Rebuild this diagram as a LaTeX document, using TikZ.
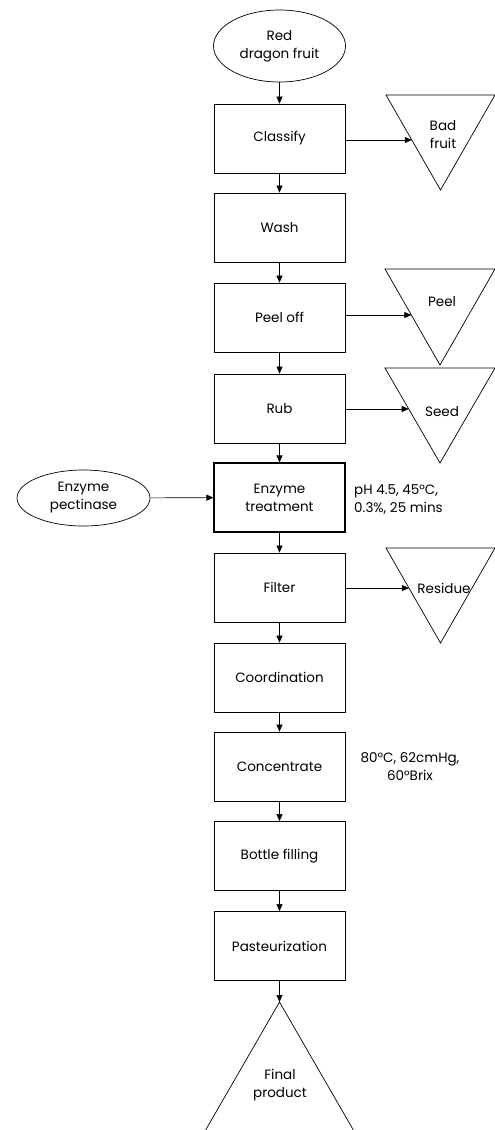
\documentclass[tikz,border=0pt]{standalone}
\usepackage{fontspec}
\setmainfont{Poppins}
\usetikzlibrary{arrows.meta,calc,shapes.geometric}
\begin{document}
\begin{tikzpicture}[x=1pt,y=-1pt,
  txt/.style={font=\fontsize{13.5}{18}\selectfont, align=center},
  box/.style={txt, draw, line width=0.8pt, minimum width=131pt, minimum height=69pt, inner sep=0pt},
  oval/.style={txt, draw, ellipse, line width=0.7pt, inner sep=0pt},
  tri/.style={draw, line width=0.7pt},
  arr/.style={-{Triangle[length=7pt,width=6pt]}, line width=0.6pt},
  note/.style={font=\fontsize{13.5}{18}\selectfont, inner sep=0pt}
]
\useasboundingbox (0,0) rectangle (495,1130);
\clip (0,0) rectangle (495,1130);

% main column
\node[oval, minimum width=132pt, minimum height=72pt] (src) at (279.5,46) {Red\\dragon fruit};
\node[box] (classify) at (279.5,138.5) {Classify};
\node[box] (wash) at (279.5,227.5) {Wash};
\node[box] (peeloff) at (279.5,317.5) {Peel off};
\node[box] (rub) at (279.5,408.5) {Rub};
\node[box, line width=1.1pt] (enzyme) at (279.5,497.5) {Enzyme\\treatment};
\node[box] (filter) at (279.5,587.5) {Filter};
\node[box] (coord) at (279.5,677.5) {Coordination};
\node[box] (conc) at (279.5,766.5) {Concentrate};
\node[box] (bottle) at (279.5,856) {Bottle filling};
\node[box] (past) at (279.5,946) {Pasteurization};

% enzyme source
\node[oval, minimum width=133pt, minimum height=56pt] (pect) at (83.5,498) {Enzyme\\pectinase};

% notes
\node[note, align=left, anchor=west] (n1) at (354,500) {pH 4.5, 45°C,\\0.3\%, 25 mins};
\node[note, align=center] (n2) at (410,767) {80°C, 62cmHg,\\60°Brix};

% waste triangles
\coordinate (b1) at (386,95);  \coordinate (b2) at (495,95);  \coordinate (b3) at (440.5,190);
\draw[tri] (b1) -- (b2) -- (b3) -- cycle;
\node[txt] (bad) at (443,135) {Bad\\fruit};

\coordinate (p1) at (385,269); \coordinate (p2) at (495,269); \coordinate (p3) at (440,365);
\draw[tri] (p1) -- (p2) -- (p3) -- cycle;
\node[txt] (peel) at (442,302) {Peel};

\coordinate (s1) at (385,368); \coordinate (s2) at (495,368); \coordinate (s3) at (440,463);
\draw[tri] (s1) -- (s2) -- (s3) -- cycle;
\node[txt] (seed) at (442,412) {Seed};

\coordinate (r1) at (386,548); \coordinate (r2) at (495,548); \coordinate (r3) at (440.5,643);
\draw[tri] (r1) -- (r2) -- (r3) -- cycle;
\node[txt] (residue) at (444,588) {Residue};

% final product
\coordinate (f1) at (279.5,1002); \coordinate (f2) at (197,1145); \coordinate (f3) at (362,1145);
\draw[tri] (f1) -- (f2) -- (f3) -- cycle;
\node[txt] (final) at (280,1085) {Final\\product};

% arrow end points on triangle edges
\coordinate (eb) at ($(b1)!{(140-95)/95}!(b3)$);
\coordinate (ep) at ($(p1)!{(315-269)/96}!(p3)$);
\coordinate (es) at ($(s1)!{(409-368)/95}!(s3)$);
\coordinate (er) at ($(r1)!{(588-548)/95}!(r3)$);

% vertical flow
\draw[arr] (src) -- (classify);
\draw[arr] (classify) -- (wash);
\draw[arr] (wash) -- (peeloff);
\draw[arr] (peeloff) -- (rub);
\draw[arr] (rub) -- (enzyme);
\draw[arr] (enzyme) -- (filter);
\draw[arr] (filter) -- (coord);
\draw[arr] (coord) -- (conc);
\draw[arr] (conc) -- (bottle);
\draw[arr] (bottle) -- (past);
\draw[arr] (past) -- (f1);

% side flows
\draw[arr] (classify.east |- eb) -- (eb);
\draw[arr] (peeloff.east |- ep) -- (ep);
\draw[arr] (rub.east |- es) -- (es);
\draw[arr] (filter.east |- er) -- (er);
\draw[arr] (pect) -- (enzyme);
\end{tikzpicture}
\end{document}
